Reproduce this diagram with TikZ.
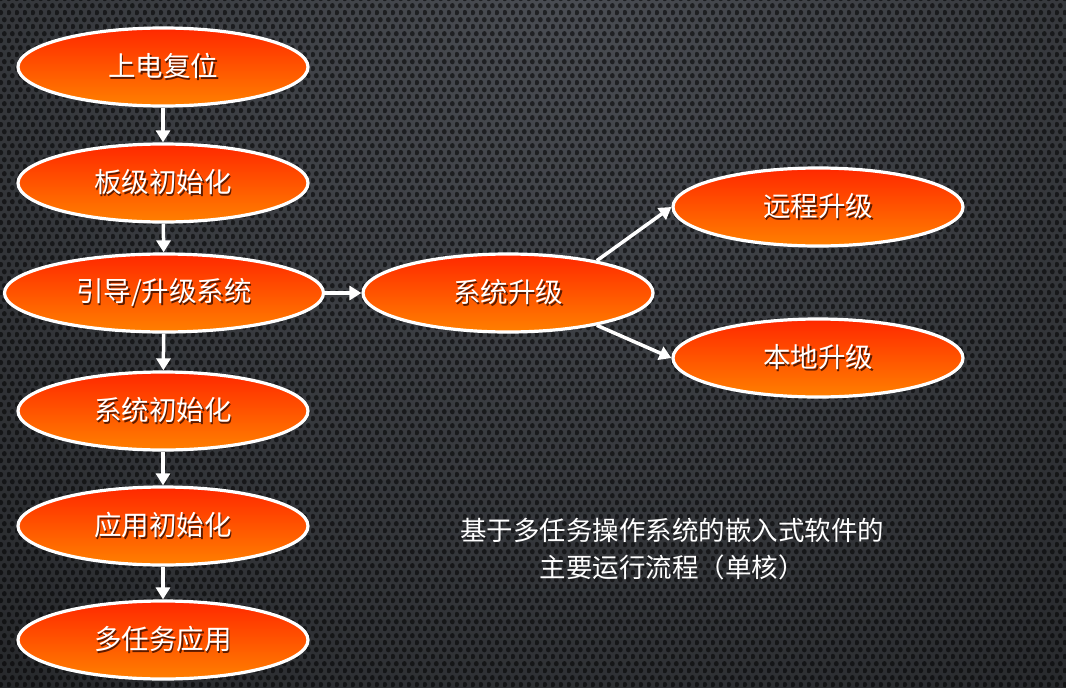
\documentclass[tikz,border=0pt]{standalone}
\usepackage{fontspec}
\setmainfont{Noto Sans CJK SC}
\usetikzlibrary{shapes.geometric,arrows.meta,patterns.meta}
\definecolor{elltop}{HTML}{FF2800}
\definecolor{ellbot}{HTML}{FF8000}
\definecolor{bgcenter}{HTML}{4A4D53}
\definecolor{bgedge}{HTML}{101112}
\definecolor{txtshadow}{HTML}{5A1A00}
\newcommand{\shtxt}[1]{\leavevmode\rlap{\hspace{1.6pt}\raisebox{-1.8pt}{\textcolor{txtshadow}{#1}}}#1}
\tikzdeclarepattern{
  name=hexmesh,
  type=uncolored,
  bounding box={(0pt,0pt) and (8pt,13.86pt)},
  tile size={(8pt,13.86pt)},
  code={
    \fill (2pt,3.46pt) circle (2.7pt);
    \fill (6pt,10.39pt) circle (2.7pt);
  }
}
\tikzset{
  stage/.style={ellipse, draw=white, line width=3.2pt, top color=elltop, bottom color=ellbot,
    minimum width=290pt, minimum height=78pt, inner sep=0pt, text=white,
    font=\fontsize{27.5}{31}\selectfont},
  flow/.style={draw=white, line width=3.5pt, -{Triangle[width=14pt,length=12pt]}},
  caption/.style={text=white, align=center, font=\fontsize{26.5}{37}\selectfont}
}
\begin{document}
\begin{tikzpicture}[x=1pt,y=1pt]
\useasboundingbox (0,0) rectangle (1066,-688);
\begin{scope}
  \clip (0,0) rectangle (1066,-688);
  \fill[bgedge] (0,0) rectangle (1066,-688);
  \shade[inner color=bgcenter, outer color=bgedge] (560,20) circle (1500);
  \fill[pattern=hexmesh, pattern color=black, fill opacity=0.55] (0,0) rectangle (1066,-688);
\end{scope}

\node[stage] (reset) at (163,-67) {\shtxt{上电复位}};
\node[stage] (board) at (163,-183) {\shtxt{板级初始化}};
\node[stage, minimum width=319pt] (boot) at (164,-293) {\shtxt{引导/升级系统}};
\node[stage] (sysinit) at (163,-411) {\shtxt{系统初始化}};
\node[stage] (appinit) at (163,-526) {\shtxt{应用初始化}};
\node[stage] (multi) at (163,-640) {\shtxt{多任务应用}};
\node[stage] (upg) at (508,-293) {\shtxt{系统升级}};
\node[stage] (remote) at (818,-207) {\shtxt{远程升级}};
\node[stage] (local) at (818,-358) {\shtxt{本地升级}};

\node[caption] (cap) at (672,-549) {基于多任务操作系统的嵌入式软件的\\主要运行流程（单核）};

\draw[flow] (reset) -- (board);
\draw[flow] (board) -- (boot);
\draw[flow] (boot) -- (sysinit);
\draw[flow] (sysinit) -- (appinit);
\draw[flow] (appinit) -- (multi);
\draw[flow] (boot) -- (upg);
\draw[flow] (upg.20) -- (remote.west);
\draw[flow] (upg.-20) -- (local.west);
\end{tikzpicture}
\end{document}
